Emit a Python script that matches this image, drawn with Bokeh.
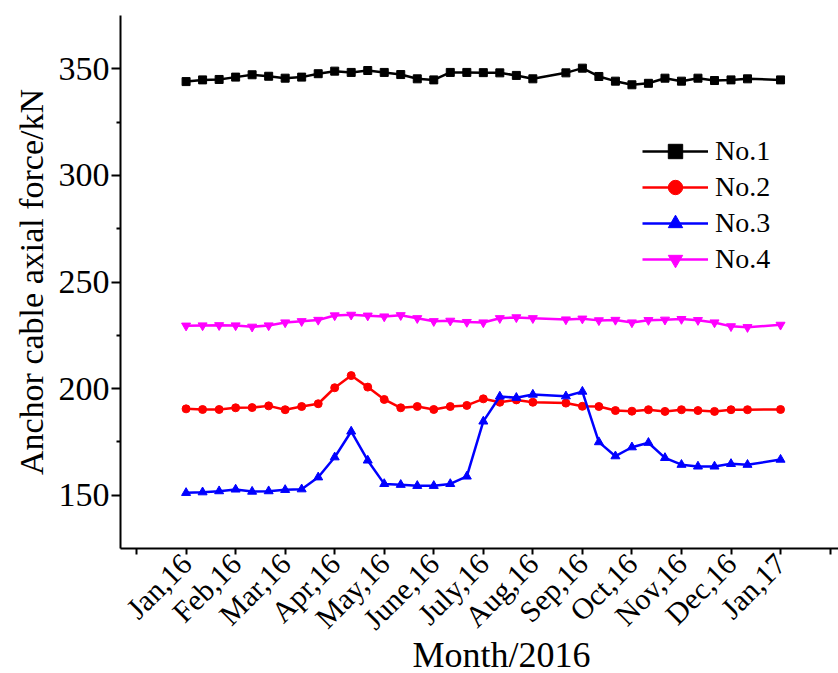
import math
from bokeh.plotting import figure
from bokeh.models import FixedTicker, Range1d, Legend, LegendItem, Title
from bokeh.embed import file_html
from bokeh.resources import INLINE

# x positions in months after Jan 2016 (three readings per month)
months = [0, 0.333, 0.667, 1, 1.333, 1.667, 2, 2.333, 2.667, 3, 3.333, 3.667,
          4, 4.333, 4.667, 5, 5.333, 5.667, 6, 6.333, 6.667, 7, 7.667, 8,
          8.333, 8.667, 9, 9.333, 9.667, 10, 10.333, 10.667, 11, 11.333, 12]

no1 = [344.0, 344.8, 345.0, 346.1, 347.2, 346.5, 345.6, 346.1, 347.7, 348.9,
       348.3, 349.2, 348.3, 347.3, 345.3, 344.8, 348.3, 348.3, 348.2,
       348.1, 346.9, 345.3, 348.1, 350.3, 346.4, 344.2, 342.5, 343.2, 345.6,
       344.2, 345.6, 344.5, 344.8, 345.3, 344.8]

no2 = [190.5, 190.2, 190.2, 191.0, 191.1, 191.9, 190.1, 191.6, 192.9, 200.4,
       206.1, 200.7, 194.9, 191.0, 191.6, 190.2, 191.6, 192.1, 195.2,
       193.6, 194.7, 193.6, 193.2, 191.7, 191.6, 189.7, 189.4, 190.1, 189.3,
       190.1, 189.7, 189.3, 190.1, 190.1, 190.2]

no3 = [151.1, 151.4, 151.9, 152.7, 151.7, 151.9, 152.5, 152.8, 158.4, 167.8,
       179.9, 166.3, 155.3, 154.9, 154.4, 154.4, 155.3, 158.8, 184.6,
       196.3, 195.7, 197.2, 196.4, 198.6, 174.9, 168.3, 172.5, 174.6, 167.5,
       164.3, 163.5, 163.5, 164.7, 164.3, 166.7]

no4 = [229.5, 229.6, 229.7, 229.6, 229.0, 229.6, 231.0, 231.6, 232.2, 234.3,
       234.6, 234.2, 233.8, 234.4, 233.0, 231.6, 231.8, 231.2, 231.0,
       233.0, 233.4, 233.0, 232.4, 232.8, 232.0, 232.2, 231.0, 232.1, 232.3,
       232.6, 232.1, 231.0, 229.2, 228.8, 229.9]

tick_months = [-1, 0, 1, 2, 3, 4, 5, 6, 7, 8, 9, 10, 11, 12, 13]
tick_labels = ["", "Jan,16", "Feb,16", "Mar,16", "Apr,16", "May,16", "June,16",
               "July,16", "Aug,16", "Sep,16", "Oct,16", "Nov,16", "Dec,16",
               "Jan,17", ""]
y_major = [150, 200, 250, 300, 350]
y_minor = [175, 225, 275, 325]

series = [
    ("No.1", no1, "black", "square", 8),
    ("No.2", no2, "red", "circle", 8),
    ("No.3", no3, "blue", "triangle", 9),
    ("No.4", no4, "magenta", "inverted_triangle", 9),
]

FONT = "Liberation Serif"

p = figure(width=838, height=673,
           x_range=Range1d(-1.324, 13.17), y_range=Range1d(125, 375),
           output_backend="svg", toolbar_location=None,
           min_border_left=120, min_border_right=0,
           min_border_top=15, min_border_bottom=125)
p.outline_line_color = None
p.grid.visible = False

items = []
for name, vals, color, marker, size in series:
    ln = p.line(months, vals, line_color=color, line_width=2.5)
    sc = p.scatter(months, vals, marker=marker, size=size,
                   fill_color=color, line_color=color)
    items.append(LegendItem(label=name, renderers=[ln, sc]))

legend = Legend(items=items, location=(522, 271),
                glyph_width=66, glyph_height=36, label_height=36,
                label_standoff=7, spacing=0, padding=0, margin=0,
                border_line_alpha=0, background_fill_alpha=0,
                label_text_font=FONT, label_text_font_size="28px",
                label_text_color="black")
p.add_layout(legend)

# x axis
xa = p.xaxis[0]
xa.ticker = FixedTicker(ticks=tick_months)
xa.major_label_overrides = {m: lab for m, lab in zip(tick_months, tick_labels)}
xa.major_label_orientation = math.pi / 4
xa.major_label_text_font = FONT
xa.major_label_text_font_size = "30px"
xa.major_label_text_color = "black"
xa.major_label_standoff = 4
xa.major_tick_out = 6
xa.major_tick_in = 0
xa.minor_tick_out = 0
xa.minor_tick_in = 0
xa.axis_line_width = 2
xa.axis_line_color = "black"
xa.major_tick_line_width = 2
xa.major_tick_line_color = "black"

# x axis title, sitting a little right of the frame centre as in the original
p.add_layout(Title(text="Month/2016", align="left", offset=292,
                   vertical_align="top", standoff=-32,
                   text_font=FONT, text_font_size="36px",
                   text_font_style="normal", text_color="black"), "below")

# y axis
ya = p.yaxis[0]
ya.ticker = FixedTicker(ticks=y_major, minor_ticks=y_minor)
ya.axis_label = "Anchor cable axial force/kN"
ya.axis_label_text_font = FONT
ya.axis_label_text_font_size = "34px"
ya.axis_label_text_font_style = "normal"
ya.axis_label_standoff = 6
ya.axis_label_text_color = "black"
ya.major_label_text_font = FONT
ya.major_label_text_font_size = "34px"
ya.major_label_text_color = "black"
ya.major_label_standoff = 2
ya.major_tick_out = 9
ya.major_tick_in = 0
ya.minor_tick_out = 4
ya.minor_tick_in = 0
ya.axis_line_width = 2
ya.axis_line_color = "black"
ya.major_tick_line_width = 2
ya.minor_tick_line_width = 2
ya.major_tick_line_color = "black"
ya.minor_tick_line_color = "black"

open("out.html", "w").write(file_html(p, INLINE))
